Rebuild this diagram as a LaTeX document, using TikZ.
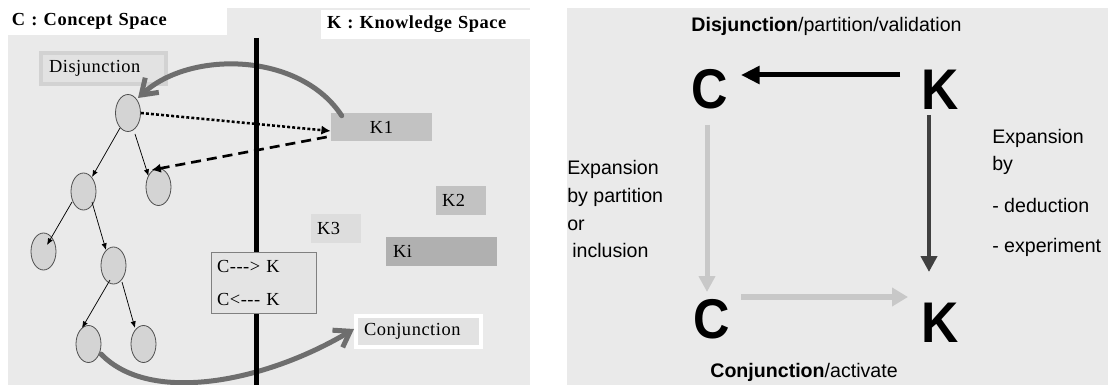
\documentclass[tikz,border=0pt]{standalone}
\usepackage{fontspec}
\usetikzlibrary{arrows.meta,calc,shapes.geometric}
\newfontfamily\lserif{Liberation Serif}[LetterSpace=3]
\newfontfamily\lsans{Liberation Sans}
\definecolor{panelgray}{HTML}{EAEAEA}
\definecolor{ellfill}{HTML}{D4D4D4}
\definecolor{ellborder}{HTML}{505050}
\definecolor{kone}{HTML}{C2C2C2}
\definecolor{kthree}{HTML}{DDDDDD}
\definecolor{kibox}{HTML}{B0B0B0}
\definecolor{disfill}{HTML}{E2E2E2}
\definecolor{disborder}{HTML}{D2D2D2}
\definecolor{ckfill}{HTML}{E4E4E4}
\definecolor{ckborder}{HTML}{808080}
\definecolor{curvegray}{HTML}{6E6E6E}
\definecolor{lightarr}{HTML}{C8C8C8}
\definecolor{darkarr}{HTML}{404040}
\tikzset{
  sfont/.style={font=\lserif\fontsize{13.8}{16}\selectfont},
  sbold/.style={font=\lserif\bfseries\fontsize{13.8}{16}\selectfont},
  tnode/.style={ellipse, draw=ellborder, fill=ellfill, line width=0.6pt,
    minimum width=18.75pt, minimum height=27.75pt, inner sep=0pt},
  tedge/.style={-{Latex[length=5pt,width=4pt]}, line width=0.55pt},
  kbox/.style={sfont, inner ysep=0pt, align=left},
  labbox/.style={sfont, line width=3pt, minimum width=93.75pt, minimum height=23.25pt,
    text width=81.75pt, inner xsep=6pt, inner ysep=0pt, align=left},
  bigcurve/.style={draw=curvegray, line width=3.75pt, line cap=round,
    -{Straight Barb[length=11pt,width=15pt,line width=3.75pt]}},
  rtext/.style={font=\lsans\fontsize{14.7}{18}\selectfont, inner sep=0pt, anchor=base west},
  bigC/.style={font=\lsans\bfseries\fontsize{42}{46}\selectfont, inner sep=0pt},
  bigK/.style={font=\lsans\bfseries\fontsize{43}{47}\selectfont, inner sep=0pt},
}
\begin{document}
\begin{tikzpicture}[x=0.75pt,y=-0.75pt]
\useasboundingbox (0,0) rectangle (1108,385);
\fill[white] (0,0) rectangle (1108,385);
% panels
\fill[panelgray] (8,8) rectangle (530,385);
\fill[panelgray] (567,8) rectangle (1108,385);

% ---------------- left panel ----------------
\node[sbold, fill=white, minimum width=164.25pt, minimum height=20.25pt, text width=158.25pt,
  inner xsep=3pt, inner ysep=0pt, align=left] (ctitle) at (117.5,21.5) {C : Concept Space};
\node[sbold, fill=white, minimum width=156.75pt, minimum height=21.75pt, text width=147.75pt,
  inner xsep=4.5pt, inner ysep=0pt, align=left] (ktitle) at (425.5,24.5) {K : Knowledge Space};

\node[labbox, draw=disborder, fill=disfill] (disj) at (103.5,68.5) {Disjunction};
\node[labbox, draw=white, fill=disfill] (conj) at (418.5,331.5) {Conjunction};

% tree
\node[tnode] (root) at (128,113) {};
\node[tnode] (lc) at (83.5,191.5) {};
\node[tnode] (rc) at (158.5,187) {};
\node[tnode] (ll) at (43.5,251.5) {};
\node[tnode] (lr) at (113.5,265.5) {};
\node[tnode] (bl) at (88.5,344) {};
\node[tnode] (br) at (143.5,344) {};
\draw[tedge] ($(root)+(-8,15)$) -- ($(lc)+(8.5,-14.5)$);
\draw[tedge] ($(root)+(7,21)$) -- ($(rc)+(-10,-11)$);
\draw[tedge] ($(lc)+(-11.5,10.5)$) -- ($(ll)+(3.5,-6.5)$);
\draw[tedge] ($(lc)+(8.5,10.5)$) -- ($(lr)+(-7.5,-15.5)$);
\draw[tedge] ($(lr)+(-3.5,14.5)$) -- ($(bl)+(-6.5,-16)$);
\draw[tedge] ($(lr)+(8.5,16.5)$) -- ($(br)+(-8.5,-16)$);

% knowledge boxes
\node[kbox, fill=kone, minimum width=75.75pt, minimum height=21pt, inner xsep=0pt, align=center] (k1) at (381.5,127) {K1};
\node[kbox, fill=kone, minimum height=21.75pt, text width=28.5pt, inner xsep=4.5pt] (k2) at (461,200.5) {K2};
\node[kbox, fill=kthree, minimum height=21.75pt, text width=28.5pt, inner xsep=4.5pt] (k3) at (336,228.5) {K3};
\node[kbox, fill=kibox, minimum height=21.75pt, text width=72.75pt, inner xsep=5.25pt] (ki) at (441.5,251.5) {Ki};

% big curves
\draw[bigcurve] ($(k1.north west)+(11,3)$) .. controls (300,52) and (190,50) .. ($(root)+(10,-15)$);
\draw[bigcurve] ($(bl)+(12.5,10)$) .. controls (150,405) and (265,382) .. ($(conj.west)+(0,-2.5)$);

% dotted and dashed
\draw[line width=1.9pt, dash pattern=on 2.2pt off 1.6pt, -{Latex[length=7pt,width=7pt]}]
  (root.east) -- ($(k1.west)+(0,4)$);
\draw[line width=2pt, dash pattern=on 7.5pt off 4.5pt, -{Latex[length=7pt,width=7pt]}]
  ($(k1.west)+(-4,10)$) -- ($(rc)+(-7,-17)$);

% separator line
\coordinate (vtop) at (256,38);
\coordinate (vbot) at (256,385);
\draw[line width=3.75pt] (vtop) -- (vbot);

\node[draw=ckborder, fill=ckfill, line width=0.75pt, minimum width=78.75pt, minimum height=45.75pt,
  text width=69.75pt, inner xsep=4.5pt, inner ysep=0pt, align=left,
  font=\lserif\fontsize{13.8}{24.75}\selectfont] (ck) at (263.5,282.5) {C{-}{-}{-}> K\\C<{-}{-}{-} K};

% ---------------- right panel ----------------
\node[font=\lsans\fontsize{14.7}{18}\selectfont, inner sep=0pt, anchor=base] (rtitle) at (826.5,32)
  {\textbf{Disjunction}/partition/validation};
\node[bigC] (Ctop) at (710,89) {\scalebox{0.9}[1]{C}};
\node[bigK] (Ktop) at (940.5,90) {\scalebox{0.9}[1]{K}};
\node[bigC] (Cbot) at (712,319) {\scalebox{0.9}[1]{C}};
\node[bigK] (Kbot) at (940,322.5) {\scalebox{0.9}[1]{K}};

\draw[line width=3.75pt, -{Triangle[length=14pt,width=13pt]}] ($(Ktop)+(-40.5,-15)$) -- ($(Ctop)+(31,-14)$);
\draw[darkarr, line width=3pt, -{Triangle[length=12pt,width=12pt]}] ($(Ktop)+(-11.5,25)$) -- ($(Kbot)+(-11,-50.5)$);
\draw[lightarr, line width=3.75pt, -{Triangle[length=12pt,width=12pt]}] ($(Ctop)+(-3,36)$) -- ($(Cbot)+(-5,-27)$);
\draw[lightarr, line width=4.2pt, -{Triangle[length=12pt,width=13.5pt]}] ($(Cbot)+(29,-22)$) -- ($(Kbot)+(-32,-25.5)$);

\node[rtext] (le1) at (567,175) {Expansion};
\node[rtext] (le2) at (567,203) {by partition};
\node[rtext] (le3) at (567,230) {or};
\node[rtext] (le4) at (572,257) {inclusion};
\node[rtext] (re1) at (992,144) {Expansion};
\node[rtext] (re2) at (992,171) {by};
\node[rtext] (re3) at (992,212) {- deduction};
\node[rtext] (re4) at (992,252) {- experiment};
\node[font=\lsans\fontsize{14.7}{18}\selectfont, inner sep=0pt, anchor=base] (rbot) at (804,377)
  {\textbf{Conjunction}/activate};
\end{tikzpicture}
\end{document}
